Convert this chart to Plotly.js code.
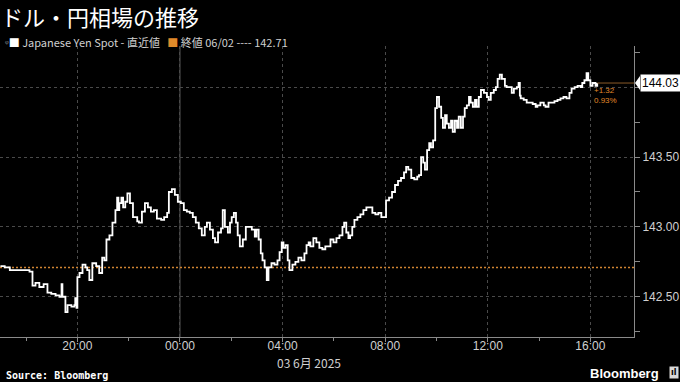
<!DOCTYPE html>
<html>
<head>
<meta charset="utf-8">
<script src="https://cdn.plot.ly/plotly-3.0.1.min.js"></script>
<style>html,body{margin:0;padding:0;background:#000;}#chart{width:680px;height:382px;}</style>
</head>
<body>
<div id="chart"></div>
<script>
// ---- data (USD/JPY spot, 2 Jun 17:00 -> 3 Jun 16:16) ----
const timesJun2 = ['17:00','17:10','17:22','17:45','18:08','18:15','18:22','18:31','18:41','18:50','18:59','19:09','19:18','19:23','19:25','19:32','19:37','19:46','19:53','19:55','19:58','20:00','20:05','20:12','20:19','20:23','20:28','20:35','20:44','20:51','20:58','21:03','21:08','21:15','21:22','21:29','21:33','21:36','21:38','21:43','21:47','21:52','21:57','22:03','22:10','22:20','22:24','22:31','22:38','22:45','22:52','22:59','23:06','23:16','23:23','23:30','23:34','23:41','23:48','23:55'];
const valuesJun2 = [142.72,142.71,142.69,142.69,142.68,142.58,142.60,142.57,142.59,142.53,142.52,142.51,142.50,142.59,142.50,142.39,142.44,142.43,142.44,142.49,142.42,142.64,142.67,142.73,142.71,142.69,142.62,142.74,142.72,142.67,142.78,142.76,142.91,142.94,143.03,143.12,143.21,143.12,143.17,143.21,143.14,143.18,143.24,143.17,143.07,143.04,143.03,143.11,143.17,143.14,143.11,143.12,143.06,143.05,143.07,143.10,143.25,143.27,143.23,143.18];
const timesJun3 = ['00:02','00:09','00:16','00:23','00:30','00:37','00:44','00:51','00:58','01:03','01:10','01:17','01:22','01:29','01:36','01:40','01:45','01:52','01:57','02:01','02:06','02:11','02:15','02:20','02:27','02:34','02:41','02:48','02:55','02:59','03:04','03:09','03:13','03:18','03:23','03:27','03:34','03:41','03:48','03:53','03:58','04:02','04:07','04:12','04:16','04:23','04:30','04:37','04:44','04:51','04:56','05:01','05:05','05:12','05:19','05:26','05:33','05:40','05:47','05:52','05:59','06:06','06:13','06:20','06:24','06:29','06:34','06:38','06:43','06:48','06:55','07:02','07:09','07:16','07:23','07:30','07:37','07:44','07:51','07:58','08:02','08:09','08:16','08:23','08:30','08:37','08:44','08:49','08:54','09:01','09:08','09:15','09:19','09:24','09:29','09:33','09:38','09:43','09:47','09:52','09:57','10:01','10:06','10:11','10:15','10:20','10:24','10:29','10:34','10:38','10:43','10:48','10:52','10:57','11:02','11:06','11:11','11:16','11:20','11:25','11:30','11:34','11:39','11:44','11:51','11:58','12:02','12:07','12:14','12:19','12:23','12:28','12:33','12:40','12:44','12:49','12:56','13:01','13:08','13:12','13:15','13:17','13:24','13:31','13:38','13:45','13:52','13:56','14:03','14:11','14:15','14:22','14:29','14:36','14:43','14:50','14:57','15:04','15:11','15:16','15:23','15:30','15:37','15:41','15:46','15:51','15:55','16:00','16:05','16:12','16:16'];
const valuesJun3 = [143.17,143.12,143.11,143.10,143.07,143.03,142.99,142.94,143.00,143.03,142.98,142.92,142.89,142.96,142.99,143.12,143.00,142.96,143.03,143.07,143.10,143.03,142.94,142.86,142.91,143.00,143.00,142.98,142.93,142.98,142.91,142.81,142.76,142.71,142.62,142.71,142.74,142.73,142.76,142.82,142.89,142.85,142.87,142.76,142.69,142.73,142.75,142.78,142.76,142.81,142.87,142.89,142.86,142.92,142.89,142.85,142.84,142.86,142.86,142.91,142.89,142.92,142.94,143.00,143.03,142.96,142.92,142.94,143.00,143.05,143.07,143.09,143.12,143.14,143.14,143.10,143.09,143.10,143.07,143.07,143.19,143.21,143.25,143.30,143.33,143.35,143.39,143.43,143.41,143.35,143.34,143.36,143.37,143.50,143.46,143.41,143.55,143.60,143.57,143.62,143.85,143.93,143.86,143.78,143.71,143.80,143.74,143.71,143.76,143.68,143.76,143.71,143.79,143.71,143.79,143.85,143.87,143.93,143.89,143.86,143.91,143.86,143.93,143.98,143.96,143.93,143.91,143.96,143.98,144.00,144.06,144.09,144.06,144.01,144.00,144.00,143.96,143.99,144.00,144.03,143.94,143.92,143.91,143.89,143.89,143.88,143.86,143.87,143.89,143.87,143.86,143.89,143.89,143.90,143.91,143.92,143.93,143.92,143.96,143.99,144.00,144.01,144.00,144.03,144.05,144.10,144.05,144.01,144.03,144.01,144.03];
const prevClose = 142.71;
const prevCloseLabel = '06/02';
const lastLabel = '144.03';
const changeLabel = '+1.32';
const pctLabel = '0.93%';
const yTickVals = [142.5, 143.0, 143.5, 144.0];
const yTickText = ['142.50', '143.00', '143.50', ''];
const xTickVals = ['2025-06-02 20:00','2025-06-03 00:00','2025-06-03 04:00','2025-06-03 08:00','2025-06-03 12:00','2025-06-03 16:00'];
const xTickText = ['20:00','00:00','04:00','08:00','12:00','16:00'];
const dateLabel = '03 6月 2025';
const seriesName = 'Japanese Yen Spot - 直近値';

const times = timesJun2.map(t => '2025-06-02 ' + t).concat(timesJun3.map(t => '2025-06-03 ' + t));
const values = valuesJun2.concat(valuesJun3);
const lastT = times[times.length - 1];
const lastV = values[values.length - 1];

const xStart = '2025-06-02 16:59', xEnd = '2025-06-03 17:42';
const ORANGE = '#e08a2a';
const GRID = '#4a4a4a';
const AX = '#8a8a8a';
const TXT = '#d0d0d0';

const traces = [
  {x: times, y: values, type: 'scatter', mode: 'lines',
   line: {color: '#ffffff', width: 1.8, shape: 'hv'}, hoverinfo: 'skip', showlegend: false}
];

const layout = {
  width: 680, height: 382,
  paper_bgcolor: '#000', plot_bgcolor: '#000',
  margin: {l: 0, r: 46, t: 46, b: 45},
  font: {family: 'Liberation Sans, Arial, sans-serif', color: TXT, size: 12},
  showlegend: false,
  xaxis: {
    type: 'date', range: [xStart, xEnd],
    tickvals: xTickVals, ticktext: xTickText,
    ticks: 'outside', ticklen: 4, tickcolor: AX, tickwidth: 1, ticklabelstandoff: -6,
    minor: {dtick: 2 * 3600 * 1000, tick0: '2025-06-02 18:00', ticks: 'outside', ticklen: 3, tickcolor: AX, showgrid: false},
    showgrid: true, gridcolor: GRID, griddash: 'dot', gridwidth: 1,
    showline: true, linecolor: AX, linewidth: 1,
    zeroline: false, tickfont: {size: 12, color: TXT}, fixedrange: true
  },
  yaxis: {
    side: 'right', range: [142.212, 144.295],
    tickvals: yTickVals, ticktext: yTickText,
    ticks: 'outside', ticklen: 5, tickcolor: AX,
    minor: {dtick: 0.25, tick0: 142.25, ticks: 'outside', ticklen: 5, tickcolor: AX, showgrid: false},
    showgrid: true, gridcolor: GRID, griddash: 'dot', gridwidth: 1,
    showline: true, linecolor: AX, linewidth: 1,
    zeroline: false, tickfont: {size: 12, color: TXT}, fixedrange: true
  },
  shapes: [
    {type: 'line', xref: 'x', yref: 'paper', x0: '2025-06-03 00:00', x1: '2025-06-03 00:00', y0: 0, y1: 1,
     line: {color: '#5a5a5a', width: 1}, layer: 'below'},
    {type: 'line', xref: 'paper', yref: 'y', x0: 0, x1: 1, y0: prevClose, y1: prevClose,
     line: {color: '#d08432', width: 1.4, dash: '2px,2px'}, layer: 'below'},
    {type: 'line', xref: 'x', yref: 'y', x0: lastT, x1: xEnd, y0: lastV, y1: lastV,
     line: {color: '#8a5a28', width: 1}},
    {type: 'path', xref: 'paper', yref: 'y', xsizemode: 'pixel', ysizemode: 'pixel',
     xanchor: 1, yanchor: lastV, path: 'M 1 0 L 6 -7 L 6 7 Z',
     fillcolor: '#ffffff', line: {width: 0}}
  ],
  annotations: [
    {xref: 'paper', yref: 'paper', x: -0.001, y: 1, xanchor: 'left', yanchor: 'bottom', yshift: 12,
     text: 'ドル・円相場の推移', showarrow: false,
     font: {family: 'Noto Sans CJK JP', size: 22, color: '#ffffff'}},
    {xref: 'paper', yref: 'paper', x: 0.005, y: 1, xanchor: 'left', yanchor: 'bottom', yshift: -6,
     text: '<span style="color:#888">ᵠ</span><span style="color:#ffffff">■</span> ' + seriesName +
           '   <span style="color:' + ORANGE + '">■</span> 終値 ' + prevCloseLabel + ' ---- ' + prevClose.toFixed(2),
     showarrow: false, font: {family: 'Noto Sans CJK JP', size: 11, color: TXT}},
    {xref: 'paper', yref: 'y', x: 1, y: lastV, xanchor: 'left', yanchor: 'middle', xshift: 6,
     text: lastLabel, showarrow: false, bgcolor: '#ffffff', borderpad: 1,
     font: {family: 'Liberation Sans, Arial', size: 12, color: '#000'}},
    {xref: 'x', yref: 'y', x: lastT, y: lastV, xanchor: 'left', yanchor: 'top', xshift: -5, yshift: -1,
     text: changeLabel + '<br>' + pctLabel, showarrow: false, align: 'left',
     font: {family: 'Liberation Sans, Arial', size: 8, color: ORANGE}},
    {xref: 'paper', yref: 'paper', x: 309 / 634, y: 0, xanchor: 'center', yanchor: 'top', yshift: -15,
     text: dateLabel, showarrow: false, font: {family: 'Noto Sans CJK JP', size: 12, color: TXT}},
    {xref: 'paper', yref: 'paper', x: 0.006, y: 0, xanchor: 'left', yanchor: 'top', yshift: -31,
     text: '<b>Source: Bloomberg</b>', showarrow: false,
     font: {family: 'DejaVu Sans Mono', size: 10, color: '#ffffff'}},
    {xref: 'paper', yref: 'paper', x: 1, y: 0, xanchor: 'right', yanchor: 'top', xshift: 27, yshift: -27,
     text: '<b>Bloomberg</b>', showarrow: false,
     font: {family: 'Liberation Sans Narrow, Liberation Sans, Arial', size: 13, color: '#ffffff'}},
    {xref: 'paper', yref: 'paper', x: 1, y: 0, xanchor: 'right', yanchor: 'top', xshift: 45, yshift: -29,
     text: '<b>ıl</b>', showarrow: false, bgcolor: '#d8d8d8', borderpad: 1,
     font: {family: 'DejaVu Sans', size: 8, color: '#000'}}
  ]
};

Plotly.newPlot('chart', traces, layout, {displayModeBar: false, staticPlot: true});
</script>
</body>
</html>
